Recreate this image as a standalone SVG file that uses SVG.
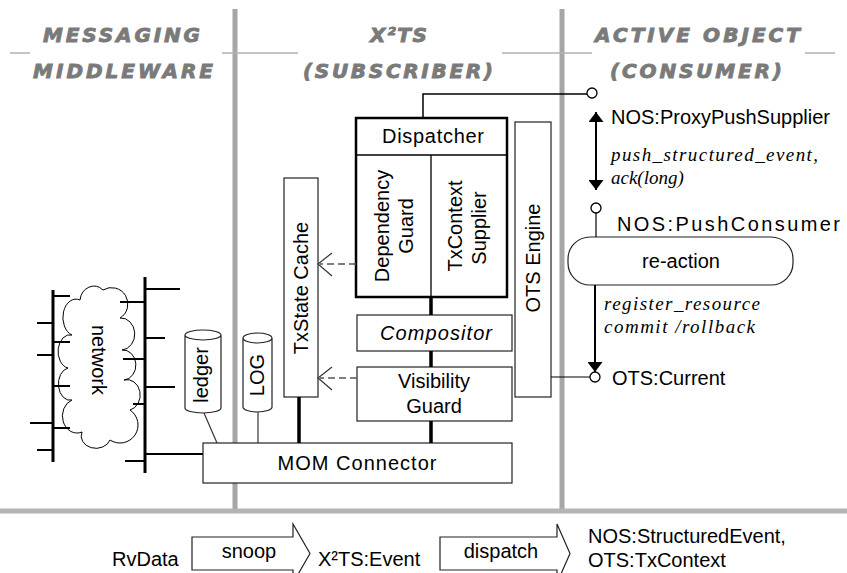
<svg xmlns="http://www.w3.org/2000/svg" width="847" height="573" viewBox="0 0 847 573">
<style>
.hdr{font-family:"DejaVu Sans",sans-serif;font-weight:bold;font-style:italic;font-size:20px;fill:#7a7a7a;stroke:#7a7a7a;stroke-width:0.9}
.t{font-family:"Liberation Sans",Arial,sans-serif;font-size:20px;fill:#000}
.it{font-family:"Liberation Serif","Times New Roman",serif;font-style:italic;font-size:19px;fill:#000}
.box{fill:#fff;stroke:#222;stroke-width:1.2}
.thick{stroke:#000;stroke-width:3.5;fill:none}
.thin{stroke:#000;stroke-width:1.5;fill:none}
.bus{stroke:#000;stroke-width:3;fill:none}
.stub{stroke:#000;stroke-width:2.2;fill:none}
.dash{stroke:#555;stroke-width:1.5;stroke-dasharray:7 4;fill:none}
.open{stroke:#333;stroke-width:1.2;fill:none}
.port{fill:#fff;stroke:#000;stroke-width:1.3}
.div{stroke:#a6a6a6;stroke-width:5}
.hl{stroke:#b0b0b0;stroke-width:1.5}
</style>
<defs>
<marker id="ah" viewBox="0 0 10 10" refX="10" refY="5" markerWidth="10" markerHeight="15" markerUnits="userSpaceOnUse" orient="auto-start-reverse" preserveAspectRatio="none">
<path d="M0,0 L10,5 L0,10 Z" fill="#000"/>
</marker>
</defs>

<g id="background">
<line class="div" x1="235" y1="9" x2="235" y2="511"/>
<line class="div" x1="562" y1="9" x2="562" y2="511"/>
<line x1="0" y1="511" x2="847" y2="511" stroke="#b4b4b4" stroke-width="5"/>
<line class="hl" x1="10" y1="53" x2="30" y2="53"/>
<line class="hl" x1="222" y1="53" x2="298" y2="53"/>
<line class="hl" x1="502" y1="53" x2="592" y2="53"/>
<line class="hl" x1="805" y1="53" x2="835" y2="53"/>
<text class="hdr" x="43" y="42" textLength="157" lengthAdjust="spacing">MESSAGING</text>
<text class="hdr" x="33" y="78" textLength="180" lengthAdjust="spacing">MIDDLEWARE</text>
<text class="hdr" x="370" y="42" textLength="57" lengthAdjust="spacing">X²TS</text>
<text class="hdr" x="303" y="78" textLength="190" lengthAdjust="spacing">(SUBSCRIBER)</text>
<text class="hdr" x="595" y="42" textLength="205" lengthAdjust="spacing">ACTIVE OBJECT</text>
<text class="hdr" x="610" y="78" textLength="172" lengthAdjust="spacing">(CONSUMER)</text>
</g>

<g id="network">
<path d="M80 300 A14 16 0 0 1 103 290 A14 14 0 0 1 120 318 A12 14 0 0 1 122 350 A12 14 0 0 1 124 380 A12 14 0 0 1 130 410 A14 14 0 0 1 110 440 A12 10 0 0 1 82 432 A12 14 0 0 1 72 400 A10 14 0 0 1 68 368 A10 14 0 0 1 72 335 A10 14 0 0 1 80 300 Z" fill="#fff" stroke="#000" stroke-width="1"/>
<text class="t" transform="translate(92,360) rotate(90)" text-anchor="middle" font-size="19">network</text>
<line class="bus" x1="53" y1="290" x2="53" y2="462"/>
<line class="bus" x1="145" y1="277" x2="145" y2="473"/>
<path class="stub" d="M53 296H70 M53 342H70 M53 386H70 M53 428H70 M37 323H53 M37 355H53 M30 423H53 M37 450H53"/>
<path class="stub" d="M145 289H180 M145 338H165 M145 387H175 M145 454H203 M120 302H145 M123 359H145 M133 404H145 M125 461H145"/>
</g>

<g id="ledger">
<path d="M185 335 V408 A18 5 0 0 0 221 408 V335 A18 5 0 0 0 185 335 A18 5 0 0 0 221 335" class="box"/>
<text class="t" transform="translate(208,375) rotate(-90)" text-anchor="middle">ledger</text>
</g>

<g id="log">
<path d="M243 338 V407 A14.5 5 0 0 0 272 407 V338 A14.5 5 0 0 0 243 338 A14.5 5 0 0 0 272 338" class="box"/>
<text class="t" transform="translate(264,375) rotate(-90)" text-anchor="middle">LOG</text>
</g>

<g id="txstate-cache">
<rect class="box" x="284" y="178" width="34" height="219"/>
<text class="t" transform="translate(308,288) rotate(-90)" text-anchor="middle">TxState Cache</text>
</g>

<g id="dispatcher">
<rect x="356" y="118" width="151" height="179" fill="#fff" stroke="#000" stroke-width="2.5"/>
<line x1="356" y1="155" x2="507" y2="155" stroke="#000" stroke-width="1.3"/>
<line x1="431" y1="155" x2="431" y2="297" stroke="#000" stroke-width="1.3"/>
<text class="t" x="433" y="143" text-anchor="middle" textLength="102" lengthAdjust="spacing">Dispatcher</text>
</g>

<g id="dependency-guard">
<text class="t" transform="translate(389,226) rotate(-90)" text-anchor="middle">Dependency</text>
<text class="t" transform="translate(413,226) rotate(-90)" text-anchor="middle">Guard</text>
</g>

<g id="txcontext-supplier">
<text class="t" transform="translate(462,226) rotate(-90)" text-anchor="middle">TxContext</text>
<text class="t" transform="translate(486,228) rotate(-90)" text-anchor="middle">Supplier</text>
</g>

<g id="ots-engine">
<rect class="box" x="515" y="122" width="36" height="275"/>
<text class="t" transform="translate(540,258) rotate(-90)" text-anchor="middle">OTS Engine</text>
</g>

<g id="compositor">
<rect class="box" x="357" y="315" width="155" height="36"/>
<text class="t" x="436" y="340" text-anchor="middle" font-style="italic" textLength="112" lengthAdjust="spacing">Compositor</text>
</g>

<g id="visibility-guard">
<rect class="box" x="357" y="367" width="155" height="54"/>
<text class="t" x="434" y="388" text-anchor="middle">Visibility</text>
<text class="t" x="434" y="413" text-anchor="middle">Guard</text>
</g>

<g id="mom-connector">
<rect class="box" x="203" y="443" width="309" height="40"/>
<text class="t" x="357" y="470" text-anchor="middle" textLength="159" lengthAdjust="spacing">MOM Connector</text>
</g>

<g id="re-action">
<rect class="box" x="568" y="237" width="225" height="48" rx="22" ry="22"/>
<text class="t" x="681" y="268" text-anchor="middle">re-action</text>
</g>

<g id="ports">
<circle class="port" cx="592" cy="93" r="5"/>
<circle class="port" cx="596" cy="208" r="5"/>
<circle class="port" cx="595" cy="377" r="5"/>
<text class="t" x="611" y="124">NOS:ProxyPushSupplier</text>
<text class="t" x="617" y="231" textLength="223" lengthAdjust="spacing">NOS:PushConsumer</text>
<text class="t" x="612" y="385">OTS:Current</text>
</g>

<g id="connectors">
<path class="thin" d="M423 118 V94 H587"/>
<line class="thick" x1="431" y1="297" x2="431" y2="315"/>
<line class="thick" x1="431" y1="351" x2="431" y2="367"/>
<line class="thick" x1="431" y1="421" x2="431" y2="443"/>
<line class="thick" x1="299" y1="397" x2="299" y2="443"/>
<line x1="258" y1="412" x2="258" y2="443" stroke="#333" stroke-width="1.2"/>
<line x1="204" y1="413" x2="217" y2="443" stroke="#333" stroke-width="1.2"/>
<line class="dash" x1="356" y1="264" x2="320" y2="264"/>
<path class="open" d="M332 253 L318 264 L332 276"/>
<line class="dash" x1="357" y1="378" x2="320" y2="378"/>
<path class="open" d="M332 367 L318 378 L332 390"/>
<line x1="551" y1="377" x2="590" y2="377" stroke="#000" stroke-width="1.2"/>
<line x1="596" y1="213" x2="596" y2="237" stroke="#000" stroke-width="1.2"/>
<line x1="596" y1="112" x2="596" y2="190" stroke="#000" stroke-width="2" marker-start="url(#ah)" marker-end="url(#ah)"/>
<line x1="595" y1="285" x2="595" y2="372" stroke="#000" stroke-width="2" marker-end="url(#ah)"/>
<text class="it" x="611" y="161" textLength="207" lengthAdjust="spacing">push_structured_event,</text>
<text class="it" x="611" y="184">ack(long)</text>
<text class="it" x="604" y="310" textLength="156" lengthAdjust="spacing">register_resource</text>
<text class="it" x="604" y="333" textLength="151" lengthAdjust="spacing">commit /rollback</text>
</g>

<g id="legend">
<text class="t" x="112" y="566">RvData</text>
<path class="box" d="M192 537 H293 V524 L310 553.5 L293 583 V570 H192 Z"/>
<text class="t" x="249" y="558" text-anchor="middle">snoop</text>
<text class="t" x="318" y="566">X²TS:Event</text>
<path class="box" d="M440 537 H557 V524 L570 553.5 L557 583 V570 H440 Z"/>
<text class="t" x="501" y="558" text-anchor="middle">dispatch</text>
<text class="t" x="588" y="543">NOS:StructuredEvent,</text>
<text class="t" x="588" y="567">OTS:TxContext</text>
</g>
</svg>
